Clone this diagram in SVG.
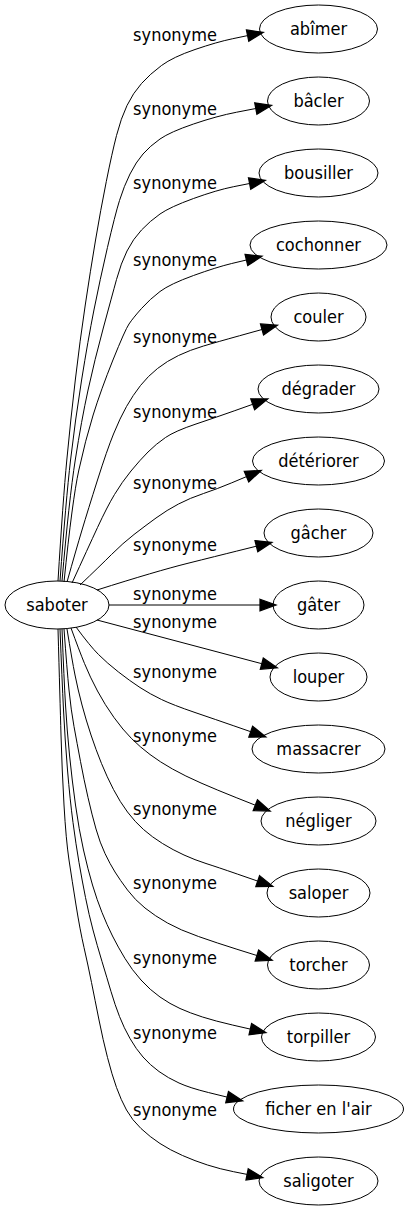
<svg xmlns="http://www.w3.org/2000/svg" width="409" height="1211" viewBox="0 0 409 1211">
<style>
text{font-family:'DejaVu Sans Condensed','DejaVu Sans',sans-serif;font-stretch:condensed;font-size:18px;fill:#000;text-anchor:middle}
.node ellipse{fill:none;stroke:#000;stroke-width:1}
.edge path{fill:none;stroke:#000;stroke-width:1;marker-end:url(#arrow)}
</style>
<defs>
<marker id="arrow" markerUnits="userSpaceOnUse" markerWidth="16" markerHeight="12" viewBox="0 0 13 9.4" refX="0" refY="4.7" orient="auto" overflow="visible">
<path d="M0,0 L13,4.7 L0,9.4 z" fill="#000" stroke="#000" stroke-width="1"/>
</marker>
</defs>
<rect width="409" height="1211" fill="#fff"/>
<g id="connectors">
<g class="edge" id="e-abimer"><path d="M58,581 Q63,500 66.8,460 Q70.6,420 75.3,380 Q80,340 85.25,305 Q90.5,270 95.55,240 Q100.6,210 106.3,181.5 Q112,153 116.5,135.5 Q121,118 127,105.5 Q133,93 141.5,83.5 Q150,74 161.5,65.5 Q173,57 195,49.5 Q217,42 232.3,38.8 L247.6,35.6"/><text x="175" y="40.5">synonyme</text></g>
<g class="edge" id="e-bacler"><path d="M60,581 Q65.9,500 70.55,460 Q75.2,420 81.6,380 Q88,340 93.95,310 Q99.9,280 107.45,247.5 Q115,215 119.5,200.5 Q124,186 130,174 Q136,162 143,154 Q150,146 160,139 Q170,132 193.5,124 Q217,116 236.4,112.25 L255.8,108.5"/><text x="175" y="114.5">synonyme</text></g>
<g class="edge" id="e-bousiller"><path d="M62,581 Q69,500 75.25,460 Q81.5,420 88.05,390 Q94.6,360 103.3,328 Q112,296 116.5,279.5 Q121,263 127,251 Q133,239 141.5,230 Q150,221 160,214 Q170,207 193.5,198.5 Q217,190 233.3,186.75 L249.6,183.5"/><text x="175" y="188.5">synonyme</text></g>
<g class="edge" id="e-cochonner"><path d="M64,582 Q72.3,500 78.85,470 Q85.4,440 93.15,415 Q100.9,390 112.95,360 Q125,330 129,324 Q133,318 141.5,308.5 Q150,299 160,291.5 Q170,284 193.5,275.5 Q217,267 231.7,263.5 L246.4,260"/><text x="175" y="265.5">synonyme</text></g>
<g class="edge" id="e-couler"><path d="M67,582 Q76,550 82,530 Q88,510 97.5,480 Q107,450 113.5,434 Q120,418 126.5,406.5 Q133,395 140.5,385.5 Q148,376 157.5,368.5 Q167,361 178.5,355.5 Q190,350 203.5,346 Q217,342 239.5,335.75 L262,329.5"/><text x="175" y="342.5">synonyme</text></g>
<g class="edge" id="e-degrader"><path d="M72,583 Q88,548 97.5,527.5 Q107,507 114.5,494.5 Q122,482 131,471 Q140,460 148,452 Q156,444 165.5,437.5 Q175,431 196,424 Q217,417 234.85,410.65 L252.7,404.3"/><text x="175" y="417.5">synonyme</text></g>
<g class="edge" id="e-deteriorer"><path d="M80,585 Q100,566 111.5,554.5 Q123,543 134,534.5 Q145,526 156,518 Q167,510 178.5,504 Q190,498 203.5,493.5 Q217,489 231.75,482.8 L246.5,476.6"/><text x="175" y="488.5">synonyme</text></g>
<g class="edge" id="e-gacher"><path d="M97,590 Q157,571 187,563.5 Q217,556 236.7,551.1 L256.4,546.2"/><text x="175" y="550.5">synonyme</text></g>
<g class="edge" id="e-gater"><path d="M109,605 L260,605"/><text x="175" y="600">synonyme</text></g>
<g class="edge" id="e-louper"><path d="M97,620 L261.8,663.7"/><text x="175" y="627.5">synonyme</text></g>
<g class="edge" id="e-massacrer"><path d="M76,627 Q90,646 98.5,654.5 Q107,663 118.5,672 Q130,681 140,687.5 Q150,694 161.5,699.5 Q173,705 195,712.5 Q217,720 233.85,725.85 L250.7,731.7"/><text x="175" y="677.5">synonyme</text></g>
<g class="edge" id="e-negliger"><path d="M71,628 Q79,650 84.5,663.5 Q90,677 97.5,691 Q105,705 114,717.5 Q123,730 131.5,738.5 Q140,747 150,754.5 Q160,762 172.5,769 Q185,776 201,783 Q217,790 236.15,797.6 L255.3,805.2"/><text x="175" y="741.5">synonyme</text></g>
<g class="edge" id="e-saloper"><path d="M67,629 Q72,660 75,675 Q78,690 82,705 Q86,720 91,735 Q96,750 101.5,763.5 Q107,777 113.5,789.5 Q120,802 127.5,812 Q135,822 143.5,829.5 Q152,837 162.5,843.5 Q173,850 184,855 Q195,860 206,863.5 Q217,867 237.35,874.05 L257.7,881.1"/><text x="175" y="814.5">synonyme</text></g>
<g class="edge" id="e-torcher"><path d="M64,629 Q67,670 69,690 Q71,710 74,726.5 Q77,743 80.5,761.5 Q84,780 88,797.5 Q92,815 96,829 Q100,843 105,853.5 Q110,864 115,872 Q120,880 127.5,890 Q135,900 145,908 Q155,916 167.5,923 Q180,930 198.5,936.5 Q217,943 236.95,949.25 L256.9,955.5"/><text x="175" y="888.5">synonyme</text></g>
<g class="edge" id="e-torpiller"><path d="M62,629 Q64,680 65.5,705 Q67,730 69.5,755 Q72,780 75.5,805 Q79,830 83.5,850 Q88,870 92.5,885 Q97,900 102,912.5 Q107,925 112.5,936 Q118,947 125,958.5 Q132,970 141,980 Q150,990 160,997 Q170,1004 180,1008.5 Q190,1013 202.5,1017 Q215,1021 232.65,1025.05 L250.3,1029.1"/><text x="175" y="963.5">synonyme</text></g>
<g class="edge" id="e-ficher"><path d="M60,629 Q62,680 63.5,710 Q65,740 67.5,770 Q70,800 73,822.5 Q76,845 79,862.5 Q82,880 85.5,897.5 Q89,915 93,930 Q97,945 102,961.5 Q107,978 111,991.5 Q115,1005 119.5,1016.5 Q124,1028 130,1038.5 Q136,1049 143,1057 Q150,1065 159,1071.5 Q168,1078 179,1083 Q190,1088 208.55,1092.55 L227.1,1097.1"/><text x="175" y="1038.5">synonyme</text></g>
<g class="edge" id="e-saligoter"><path d="M58,629 Q60,700 61,735 Q62,770 64,805 Q66,840 69,860 Q72,880 76,905 Q80,930 84,947.5 Q88,965 91.5,982.5 Q95,1000 99,1020 Q103,1040 107.5,1057.5 Q112,1075 116.5,1087.5 Q121,1100 126.5,1110 Q132,1120 141,1128.5 Q150,1137 160,1143.5 Q170,1150 182.5,1155.5 Q195,1161 207.5,1165 Q220,1169 233.55,1171.7 L247.1,1174.4"/><text x="175" y="1115.5">synonyme</text></g>
</g>
<g id="nodes">
<g class="node" id="n-saboter"><ellipse cx="57" cy="605" rx="52" ry="24"/><text x="57" y="611">saboter</text></g>
<g class="node" id="n-abimer"><ellipse cx="318.5" cy="29" rx="59" ry="24"/><text x="318.5" y="35">abîmer</text></g>
<g class="node" id="n-bacler"><ellipse cx="318.5" cy="101" rx="51" ry="24"/><text x="318.5" y="107">bâcler</text></g>
<g class="node" id="n-bousiller"><ellipse cx="318.5" cy="173" rx="59.5" ry="24"/><text x="318.5" y="179">bousiller</text></g>
<g class="node" id="n-cochonner"><ellipse cx="318.5" cy="245" rx="68.5" ry="24"/><text x="318.5" y="251">cochonner</text></g>
<g class="node" id="n-couler"><ellipse cx="318.5" cy="317" rx="47.5" ry="24"/><text x="318.5" y="323">couler</text></g>
<g class="node" id="n-degrader"><ellipse cx="318.5" cy="389" rx="60.5" ry="24"/><text x="318.5" y="395">dégrader</text></g>
<g class="node" id="n-deteriorer"><ellipse cx="318.5" cy="461" rx="66" ry="24"/><text x="318.5" y="467">détériorer</text></g>
<g class="node" id="n-gacher"><ellipse cx="318.5" cy="533" rx="54.5" ry="24"/><text x="318.5" y="539">gâcher</text></g>
<g class="node" id="n-gater"><ellipse cx="318.5" cy="605" rx="45.5" ry="24"/><text x="318.5" y="611">gâter</text></g>
<g class="node" id="n-louper"><ellipse cx="318.5" cy="677" rx="48.5" ry="24"/><text x="318.5" y="683">louper</text></g>
<g class="node" id="n-massacrer"><ellipse cx="318.5" cy="749" rx="66.5" ry="24"/><text x="318.5" y="755">massacrer</text></g>
<g class="node" id="n-negliger"><ellipse cx="318.5" cy="821" rx="57.5" ry="24"/><text x="318.5" y="827">négliger</text></g>
<g class="node" id="n-saloper"><ellipse cx="318.5" cy="893" rx="51.5" ry="24"/><text x="318.5" y="899">saloper</text></g>
<g class="node" id="n-torcher"><ellipse cx="318.5" cy="965" rx="51" ry="24"/><text x="318.5" y="971">torcher</text></g>
<g class="node" id="n-torpiller"><ellipse cx="318.5" cy="1037" rx="57" ry="24"/><text x="318.5" y="1043">torpiller</text></g>
<g class="node" id="n-ficher"><ellipse cx="318.5" cy="1109" rx="85" ry="24"/><text x="318.5" y="1115">ficher en l'air</text></g>
<g class="node" id="n-saligoter"><ellipse cx="318.5" cy="1181" rx="59.5" ry="24"/><text x="318.5" y="1187">saligoter</text></g>
</g>
</svg>
